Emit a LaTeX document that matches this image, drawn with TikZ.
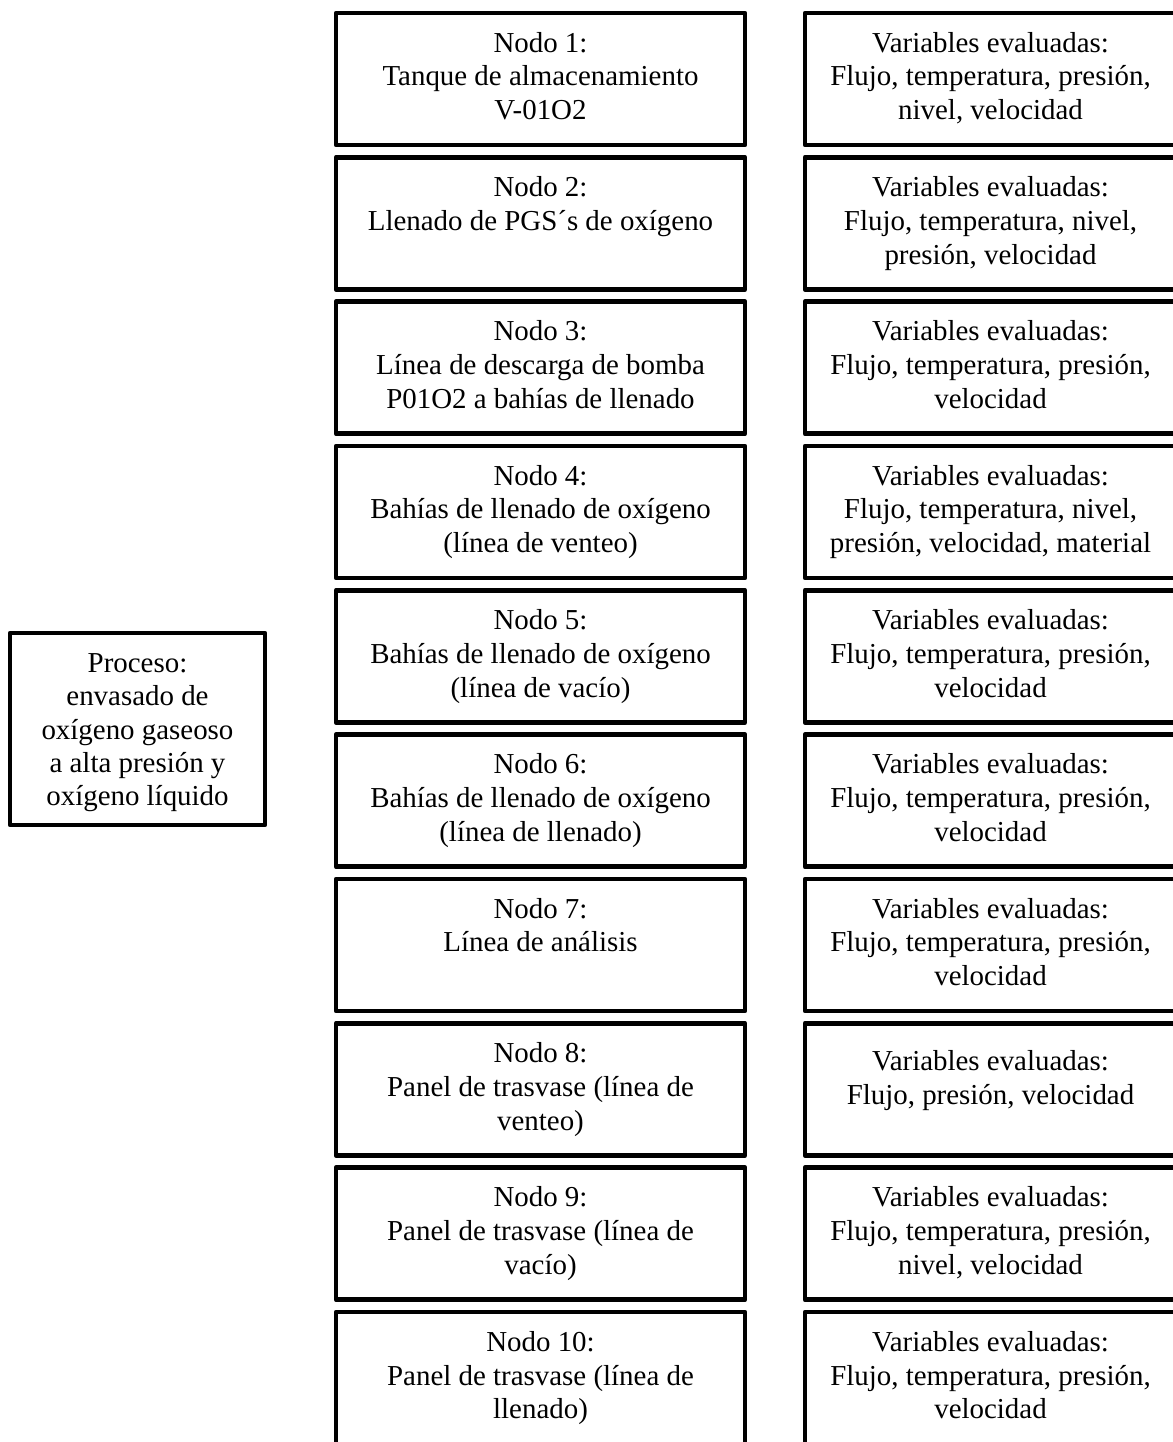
\documentclass[tikz,border=0pt]{standalone}
\usepackage{fontspec}
\setmainfont{Liberation Serif}
\begin{document}
\begin{tikzpicture}[x=0.415pt,y=-0.415pt]
    \tikzstyle{every node}=[draw,line width=1.9pt,line join=round,inner sep=0pt,font=\fontsize{12}{14.1}\selectfont];
    \tikzstyle{nodo}=[execute at begin node={\begin{minipage}[c][54.8pt][t]{169.7pt}\centering\rule{0pt}{16.2pt}},execute at end node={\end{minipage}}];
    \tikzstyle{vars}=[execute at begin node={\begin{minipage}[c][54.8pt][t]{154pt}\centering\rule{0pt}{16.2pt}},execute at end node={\end{minipage}}];
    \tikzstyle{proceso}=[font=\fontsize{12}{13.8}\selectfont,execute at begin node={\begin{minipage}[c][79.7pt][t]{105.8pt}\centering\rule{0pt}{16.4pt}},execute at end node={\end{minipage}}];
    \useasboundingbox (0,0) rectangle (1172,1442);
    %proceso
    \node[proceso] (p) at (137.5,729) {Proceso:\\ envasado de\\ oxígeno gaseoso\\ a alta presión y\\ oxígeno líquido};
    %nodos
    \node[nodo] (n1) at (540.5,79) {Nodo 1:\\ Tanque de almacenamiento\\ V-01O2};
    \node[nodo] (n2) at (540.5,223.3) {Nodo 2:\\ Llenado de PGS´s de oxígeno};
    \node[nodo] (n3) at (540.5,367.7) {Nodo 3:\\ Línea de descarga de bomba\\ P01O2 a bahías de llenado};
    \node[nodo] (n4) at (540.5,512) {Nodo 4:\\ Bahías de llenado de oxígeno\\ (línea de venteo)};
    \node[nodo] (n5) at (540.5,656.3) {Nodo 5:\\ Bahías de llenado de oxígeno\\ (línea de vacío)};
    \node[nodo] (n6) at (540.5,800.7) {Nodo 6:\\ Bahías de llenado de oxígeno\\ (línea de llenado)};
    \node[nodo] (n7) at (540.5,945) {Nodo 7:\\ Línea de análisis};
    \node[nodo] (n8) at (540.5,1089.3) {Nodo 8:\\ Panel de trasvase (línea de\\ venteo)};
    \node[nodo] (n9) at (540.5,1233.7) {Nodo 9:\\ Panel de trasvase (línea de\\ vacío)};
    \node[nodo] (n10) at (540.5,1378) {Nodo 10:\\ Panel de trasvase (línea de\\ llenado)};
    %variables
    \node[vars] (v1) at (990.5,79) {Variables evaluadas:\\ Flujo, temperatura, presión,\\ nivel, velocidad};
    \node[vars] (v2) at (990.5,223.3) {Variables evaluadas:\\ Flujo, temperatura, nivel,\\ presión, velocidad};
    \node[vars] (v3) at (990.5,367.7) {Variables evaluadas:\\ Flujo, temperatura, presión,\\ velocidad};
    \node[vars] (v4) at (990.5,512) {Variables evaluadas:\\ Flujo, temperatura, nivel,\\ presión, velocidad, material};
    \node[vars] (v5) at (990.5,656.3) {Variables evaluadas:\\ Flujo, temperatura, presión,\\ velocidad};
    \node[vars] (v6) at (990.5,800.7) {Variables evaluadas:\\ Flujo, temperatura, presión,\\ velocidad};
    \node[vars] (v7) at (990.5,945) {Variables evaluadas:\\ Flujo, temperatura, presión,\\ velocidad};
    \node[vars] (v8) at (990.5,1089.3) {\rule{0pt}{19.5pt}Variables evaluadas:\\ Flujo, presión, velocidad};
    \node[vars] (v9) at (990.5,1233.7) {Variables evaluadas:\\ Flujo, temperatura, presión,\\ nivel, velocidad};
    \node[vars] (v10) at (990.5,1378) {Variables evaluadas:\\ Flujo, temperatura, presión,\\ velocidad};
  \end{tikzpicture}
\end{document}
